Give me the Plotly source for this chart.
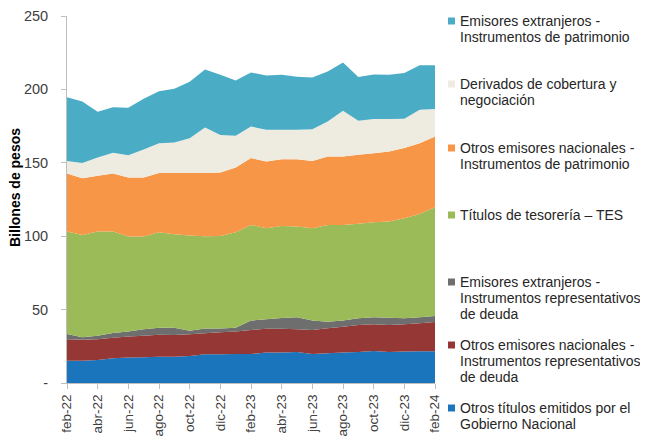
import plotly.graph_objects as go

# meses (feb-22 .. feb-24)
meses = ["feb-22", "mar-22", "abr-22", "may-22", "jun-22", "jul-22", "ago-22", "sep-22",
         "oct-22", "nov-22", "dic-22", "ene-23", "feb-23", "mar-23", "abr-23", "may-23",
         "jun-23", "jul-23", "ago-23", "sep-23", "oct-23", "nov-23", "dic-23", "ene-24", "feb-24"]
ticks_x = meses[::2]

# billones de pesos, de abajo hacia arriba
otros_titulos_gob = [15.2, 15.2, 15.7, 16.8, 17.3, 17.5, 17.9, 17.9, 18.4, 19.6, 19.6, 19.8, 19.8,
                     20.7, 20.7, 21.1, 19.8, 20.2, 20.7, 21.1, 21.8, 21.1, 21.4, 21.6, 21.6]
otros_nac_deuda = [14.6, 14.3, 14.1, 14.1, 14.3, 14.7, 15.0, 14.8, 14.8, 14.3, 15.0, 15.2, 16.3,
                   16.3, 16.3, 15.5, 16.3, 17.1, 17.7, 18.4, 18.2, 18.4, 18.6, 19.1, 20.0]
ext_deuda = [3.6, 1.7, 2.4, 3.1, 3.4, 4.4, 4.8, 5.0, 2.4, 3.3, 2.6, 2.7, 6.4,
             6.4, 7.3, 8.2, 6.4, 4.5, 4.1, 4.6, 4.8, 5.0, 4.1, 4.1, 4.1]
tes = [69.8, 69.7, 71.0, 69.2, 64.8, 63.2, 65.0, 63.7, 64.8, 62.8, 63.0, 65.0, 65.2,
       62.0, 62.7, 61.8, 62.9, 65.9, 65.2, 64.3, 64.7, 65.5, 68.2, 70.4, 74.1]
otros_nac_patrimonio = [39.5, 38.6, 37.9, 39.5, 40.2, 40.2, 40.3, 41.6, 42.6, 43.0, 43.2, 44.1, 45.5,
                        45.5, 45.5, 45.9, 45.9, 46.6, 46.6, 47.0, 47.0, 47.7, 47.7, 48.2, 48.2]
derivados = [8.6, 10.3, 12.5, 14.1, 15.2, 19.0, 20.4, 20.8, 23.8, 31.0, 25.6, 21.6, 21.5,
             21.6, 20.0, 20.0, 21.6, 23.8, 31.1, 23.2, 23.3, 22.1, 20.0, 22.7, 18.6]
ext_patrimonio = [43.4, 42.0, 31.1, 31.1, 32.3, 34.6, 35.4, 36.6, 38.4, 39.5, 41.0, 37.6, 36.8,
                  37.0, 37.5, 36.1, 35.2, 34.1, 33.0, 29.8, 30.4, 30.2, 31.1, 30.4, 29.9]

series = [
    ("Otros títulos emitidos por el<br>Gobierno Nacional", otros_titulos_gob, "#1B75BC"),
    ("Otros emisores nacionales -<br>Instrumentos representativos<br>de deuda", otros_nac_deuda, "#953735"),
    ("Emisores extranjeros -<br>Instrumentos representativos<br>de deuda", ext_deuda, "#6E6E6E"),
    ("Títulos de tesorería – TES", tes, "#9BBB59"),
    ("Otros emisores nacionales -<br>Instrumentos de patrimonio", otros_nac_patrimonio, "#F79646"),
    ("Derivados de cobertura y<br>negociación", derivados, "#EEECE1"),
    ("Emisores extranjeros -<br>Instrumentos de patrimonio", ext_patrimonio, "#4BACC6"),
]

W, H = 648, 438
OFF = 8  # margen por defecto del <body> en la página
L, R, T, B = 67, 435, 16, 383  # área del gráfico en la imagen


def px(x):
    return (x - L) / (R - L)


def py(y):
    return (B - y) / (B - T)


fig = go.Figure()
for name, vals, color in series:
    fig.add_trace(go.Scatter(x=meses, y=vals, name=name.replace("<br>", " "), stackgroup="uno",
                             mode="none", fillcolor=color, line=dict(width=0), showlegend=False))

# leyenda manual a la derecha: y de la primera línea de cada entrada
leyenda_y = [408, 345, 282, 215, 148, 84, 21]
for (name, vals, color), y1 in zip(series, leyenda_y):
    fig.add_shape(type="rect", xref="paper", yref="paper",
                  x0=px(448), x1=px(455), y0=py(y1 + 3.5), y1=py(y1 - 3.5),
                  fillcolor=color, line=dict(width=0))
    for k, linea in enumerate(name.split("<br>")):
        fig.add_annotation(text=linea, xref="paper", yref="paper", x=px(458), y=py(y1 + 16 * k),
                           xanchor="left", yanchor="middle", align="left", showarrow=False,
                           font=dict(size=14, color="#262626"))

fig.add_annotation(text="<b>Billones de pesos</b>", xref="paper", yref="paper",
                   x=px(15), y=py(188), xanchor="center", yanchor="middle",
                   textangle=-90, showarrow=False,
                   font=dict(size=14, color="#000000"))

fig.update_layout(
    width=W, height=H,
    margin=dict(l=L - OFF, r=W - R + OFF, t=T - OFF, b=H - B + OFF, autoexpand=False),
    paper_bgcolor="white", plot_bgcolor="white",
    font=dict(family="Liberation Sans, Arial, sans-serif", size=14, color="#404040"),
)
fig.update_xaxes(type="category", range=[0, len(meses) - 1], tickvals=ticks_x, ticktext=ticks_x,
                 tickangle=-90, showline=True, linecolor="#BFBFBF", linewidth=1,
                 ticks="outside", ticklen=5, tickcolor="#BFBFBF", showgrid=False, zeroline=False,
                 tickfont=dict(size=13.5))
fig.update_yaxes(range=[0, 250], tickvals=[0, 50, 100, 150, 200, 250],
                 ticktext=["-", "50", "100", "150", "200", "250"],
                 showline=True, linecolor="#BFBFBF", linewidth=1, ticks="outside", ticklen=5,
                 tickcolor="#BFBFBF", ticklabelstandoff=10, ticklabeloverflow="allow",
                 showgrid=False, zeroline=False, tickfont=dict(size=14.5))

fig.write_html("out.html")
